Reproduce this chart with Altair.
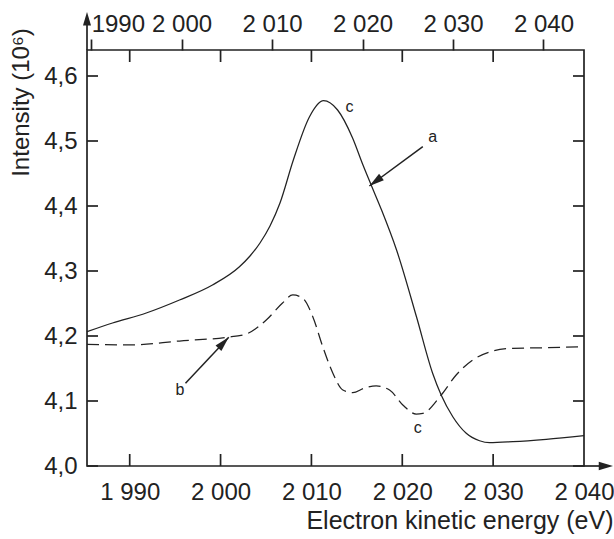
import altair as alt
import pandas as pd

# ---------------- data ----------------
solid_x = [1985.30, 1988.11, 1991.82, 1995.48, 1999.11, 2002.08, 2003.24, 2004.34,
           2005.44, 2006.54, 2008.01, 2009.79, 2011.33, 2012.88, 2014.53, 2015.63,
           2016.62, 2017.72, 2019.37, 2021.57, 2023.33, 2024.28, 2025.56, 2027.04,
           2028.50, 2029.60, 2032.17, 2035.84, 2040.00]
solid_y = [4.2066, 4.2200, 4.2354, 4.2554, 4.2785, 4.3066, 4.3231, 4.3431,
           4.3692, 4.4046, 4.4708, 4.5374, 4.5620, 4.5477, 4.5046, 4.4646,
           4.4308, 4.3938, 4.3323, 4.2292, 4.1431, 4.1092, 4.0758, 4.0503,
           4.0389, 4.0358, 4.0374, 4.0411, 4.0466]

dash_x = [1985.30, 1989.98, 1995.48, 2000.62, 2002.82, 2005.03, 2006.82, 2007.95,
          2009.05, 2010.15, 2011.25, 2012.35, 2013.46, 2014.55, 2015.84, 2017.13,
          2018.60, 2020.06, 2021.53, 2022.26, 2024.28, 2025.93, 2027.76, 2029.96,
          2032.17, 2035.84, 2040.00]
dash_y = [4.1872, 4.1862, 4.1923, 4.1980, 4.2031, 4.2246, 4.2508, 4.2631,
          4.2580, 4.2297, 4.1835, 4.1431, 4.1169, 4.1128, 4.1200, 4.1231,
          4.1169, 4.0938, 4.0800, 4.0811, 4.1092, 4.1400, 4.1631, 4.1769,
          4.1811, 4.1820, 4.1835]

x_label_values = [1990, 2000, 2010, 2020, 2030, 2040]
x_inner_ticks = [1990, 2000, 2010, 2020, 2030]
y_values = [4.0, 4.1, 4.2, 4.3, 4.4, 4.5, 4.6]
top_values = [1990, 2000, 2010, 2020, 2030, 2040]

note_text = ["a", "b", "c", "c"]
note_x = [2023.36, 1995.54, 2014.19, 2021.71]
note_y = [4.5057, 4.1169, 4.5528, 4.0580]

arrow_x = [2022.26, 1996.14]
arrow_y = [4.4912, 4.1272]
arrow_tip_x = [2016.38, 2000.90]
arrow_tip_y = [4.4308, 4.1980]
arrow_angle = [233.6, 43.3]

# ---------------- layout / style ----------------
W, H = 497, 416
X_DOMAIN = [1985.3, 2040.0]
Y_DOMAIN = [4.0, 4.64]
TOP_DOMAIN = [1989.54, 2044.48]
FONT = "Liberation Sans"
INK = "#222222"
FS = 24
HEAD = "M0,0L0.8,3L-0.8,3Z"
AXHEAD = "M0,0L0.9,3L-0.9,3Z"


def xs():
    return alt.Scale(domain=X_DOMAIN, nice=False, zero=False)


def ys():
    return alt.Scale(domain=Y_DOMAIN, nice=False, zero=False)


def y_axis():
    # identical spec in every layer so that the shared y axis merges into one
    return alt.Axis(
        values=y_values, orient="left", ticks=False, domain=False, grid=False,
        labelFlush=False, labelOverlap=False,
        labelExpr="replace(format(datum.value, '.1f'), '.', ',')",
        labelFont=FONT, labelFontSize=FS, labelColor=INK, labelPadding=10,
        title="Intensity (10⁶)", titleFont=FONT, titleFontSize=FS,
        titleFontWeight="normal", titleColor=INK, titleAlign="center",
        titleBaseline="middle", titleAngle=270, titleX=-66, titleY=52)


def Y(field):
    return alt.Y(field, scale=ys(), axis=y_axis())


solid_df = pd.DataFrame({"x": solid_x, "y": solid_y})
dash_df = pd.DataFrame({"x": dash_x, "y": dash_y})
one = pd.DataFrame({"k": [0]})

solid = alt.Chart(solid_df).mark_line(
    interpolate="monotone", color=INK, strokeWidth=1.25
).encode(
    x=alt.X("x:Q", scale=xs(), axis=alt.Axis(
        values=x_label_values, orient="bottom", ticks=False, domain=False, grid=False,
        labelFlush=False, labelOverlap=False,
        labelExpr="replace(format(datum.value, ','), ',', ' ')",
        labelFont=FONT, labelFontSize=FS, labelColor=INK, labelPadding=14,
        title="Electron kinetic energy (eV)", titleFont=FONT, titleFontSize=25,
        titleFontWeight="normal", titleColor=INK, titleAlign="right",
        titleBaseline="alphabetic", titleX=W + 29, titleY=62)),
    y=Y("y:Q"),
)

dashed = alt.Chart(dash_df).mark_line(
    interpolate="monotone", color=INK, strokeWidth=1.25, strokeDash=[12, 6]
).encode(
    x=alt.X("x:Q", scale=xs(), axis=None),
    y=Y("y:Q"),
)

tick_style = dict(color=INK, strokeWidth=1.7)
left_ticks = alt.Chart(pd.DataFrame({"v": y_values})).mark_rule(**tick_style).encode(
    y=Y("v:Q"), x=alt.value(0), x2=alt.value(11))
right_ticks = alt.Chart(pd.DataFrame({"v": y_values})).mark_rule(**tick_style).encode(
    y=Y("v:Q"), x=alt.value(W - 11), x2=alt.value(W))
bottom_ticks = alt.Chart(pd.DataFrame({"v": x_inner_ticks})).mark_rule(**tick_style).encode(
    x=alt.X("v:Q", scale=xs(), axis=None), y=alt.value(H - 12), y2=alt.value(H))
top_inner_ticks = alt.Chart(pd.DataFrame({"v": x_inner_ticks})).mark_rule(**tick_style).encode(
    x=alt.X("v:Q", scale=xs(), axis=None), y=alt.value(0), y2=alt.value(12))

# axis arrows
x_arrow_line = alt.Chart(one).mark_rule(**tick_style).encode(
    x=alt.value(W), x2=alt.value(W + 17), y=alt.value(H))
x_arrow_head = alt.Chart(one).mark_point(
    shape=AXHEAD, filled=True, color=INK, size=90, angle=90, opacity=1
).encode(x=alt.value(W + 29), y=alt.value(H))
y_arrow_line = alt.Chart(one).mark_rule(**tick_style).encode(
    x=alt.value(0), y=alt.value(-26), y2=alt.value(0))
y_arrow_head = alt.Chart(one).mark_point(
    shape=AXHEAD, filled=True, color=INK, size=80, angle=0, opacity=1
).encode(x=alt.value(0), y=alt.value(-38))

# annotations
notes = alt.Chart(pd.DataFrame({"t": note_text, "x": note_x, "y": note_y})).mark_text(
    font=FONT, fontSize=16, color=INK, align="center", baseline="middle"
).encode(
    x=alt.X("x:Q", scale=xs(), axis=None), y=Y("y:Q"), text="t:N")

arrow_df = pd.DataFrame({"x": arrow_x, "y": arrow_y, "x2": arrow_tip_x,
                         "y2": arrow_tip_y, "ang": arrow_angle})
arrow_lines = alt.Chart(arrow_df).mark_rule(color=INK, strokeWidth=1.5).encode(
    x=alt.X("x:Q", scale=xs(), axis=None), y=Y("y:Q"),
    x2="x2:Q", y2="y2:Q")
arrow_heads = alt.Chart(arrow_df).mark_point(
    shape=HEAD, filled=True, color=INK, size=100, opacity=1
).encode(
    x=alt.X("x2:Q", scale=xs(), axis=None), y=Y("y2:Q"),
    angle=alt.Angle("ang:Q", scale=None))

top_axis = alt.Chart(pd.DataFrame({"t": top_values})).mark_point(opacity=0).encode(
    x=alt.X("t:Q", scale=alt.Scale(domain=TOP_DOMAIN, nice=False, zero=False),
            axis=alt.Axis(
                orient="top", values=top_values, domain=False, grid=False,
                ticks=True, tickSize=11, tickColor=INK, tickWidth=1.7,
                labelFlush=False, labelOverlap=False,
                labelExpr="datum.value < 2000 ? format(datum.value, 'd') : replace(format(datum.value, ','), ',', ' ')",
                labelAlign={"condition": {"test": "datum.value == 1990", "value": "left"},
                            "value": "center"},
                labelFont=FONT, labelFontSize=FS, labelColor=INK, labelPadding=3,
                title=None)),
    y=alt.value(0),
)

chart = alt.layer(
    solid, dashed, left_ticks, right_ticks, bottom_ticks, top_inner_ticks,
    x_arrow_line, x_arrow_head, y_arrow_line, y_arrow_head,
    arrow_lines, arrow_heads, notes, top_axis,
).resolve_scale(x="independent").properties(
    width=W, height=H,
    padding={"left": 87, "top": 50, "right": 614 - 87 - W, "bottom": 539 - 50 - H},
    autosize="none",
    background="white",
).configure_view(stroke=INK, strokeWidth=1.7)

chart.save("out.html", embed_options={"renderer": "svg", "actions": False})
